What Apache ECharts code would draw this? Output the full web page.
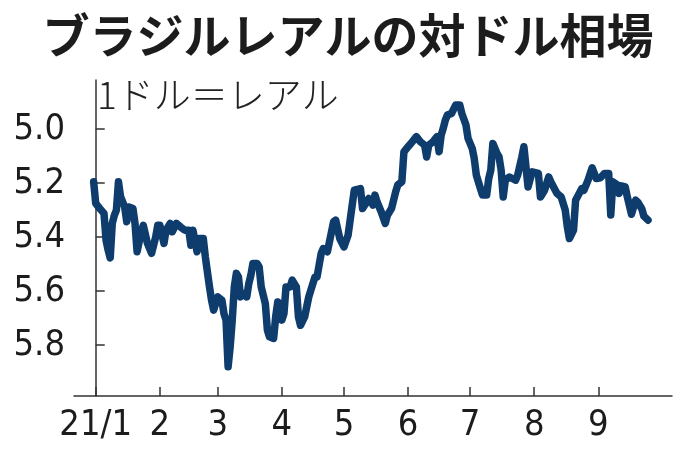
<!DOCTYPE html>
<html>
<head>
<meta charset="utf-8">
<script src="https://cdn.jsdelivr.net/npm/echarts@6/dist/echarts.min.js"></script>
<style>
html,body{margin:0;padding:0;background:#fff;}
#chart{width:696px;height:464px;}
</style>
</head>
<body>
<div id="chart"></div>
<script>
const titleText = 'ブラジルレアルの対ドル相場';
const unitText = '1ドル＝レアル';

const dates = [
'2020-12-31','2021-01-01','2021-01-03','2021-01-05','2021-01-06','2021-01-07','2021-01-08','2021-01-09','2021-01-10','2021-01-11',
'2021-01-12','2021-01-13','2021-01-15','2021-01-16','2021-01-17','2021-01-19','2021-01-20','2021-01-21','2021-01-23','2021-01-24',
'2021-01-26','2021-01-28','2021-01-30','2021-01-31','2021-02-01','2021-02-03','2021-02-04','2021-02-06','2021-02-07','2021-02-09',
'2021-02-11','2021-02-13','2021-02-15','2021-02-16','2021-02-17','2021-02-19','2021-02-20','2021-02-22','2021-02-23','2021-02-25',
'2021-02-26','2021-02-27','2021-03-01','2021-03-03','2021-03-04','2021-03-05','2021-03-06','2021-03-07','2021-03-08','2021-03-09',
'2021-03-10','2021-03-11','2021-03-12','2021-03-14','2021-03-15','2021-03-16','2021-03-17','2021-03-18','2021-03-20','2021-03-21',
'2021-03-22','2021-03-24','2021-03-25','2021-03-26','2021-03-28','2021-03-29','2021-03-30','2021-03-31','2021-04-01','2021-04-02',
'2021-04-03','2021-04-05','2021-04-06','2021-04-08','2021-04-09','2021-04-10','2021-04-12','2021-04-14','2021-04-17','2021-04-18',
'2021-04-20','2021-04-21','2021-04-23','2021-04-24','2021-04-26','2021-04-27','2021-04-29','2021-05-01','2021-05-03','2021-05-05',
'2021-05-06','2021-05-09','2021-05-10','2021-05-12','2021-05-13','2021-05-15','2021-05-16','2021-05-17','2021-05-19','2021-05-21',
'2021-05-22','2021-05-24','2021-05-26','2021-05-27','2021-05-29','2021-05-30','2021-06-01','2021-06-03','2021-06-05','2021-06-07',
'2021-06-09','2021-06-10','2021-06-11','2021-06-13','2021-06-15','2021-06-16','2021-06-17','2021-06-18','2021-06-19','2021-06-20',
'2021-06-22','2021-06-24','2021-06-26','2021-06-27','2021-06-29','2021-06-30','2021-07-02','2021-07-03','2021-07-04','2021-07-06',
'2021-07-07','2021-07-09','2021-07-10','2021-07-11','2021-07-12','2021-07-14','2021-07-15','2021-07-16','2021-07-17','2021-07-18',
'2021-07-20','2021-07-23','2021-07-24','2021-07-26','2021-07-27','2021-07-29','2021-07-31','2021-08-03','2021-08-04','2021-08-06',
'2021-08-08','2021-08-09','2021-08-12','2021-08-14','2021-08-16','2021-08-17','2021-08-18','2021-08-20','2021-08-21','2021-08-24',
'2021-08-25','2021-08-27','2021-08-29','2021-08-31','2021-09-02','2021-09-04','2021-09-06','2021-09-07','2021-09-08','2021-09-10',
'2021-09-11','2021-09-12','2021-09-14','2021-09-15','2021-09-17','2021-09-19','2021-09-20','2021-09-22','2021-09-23','2021-09-25'
];

const rates = [
5.195,5.275,5.294,5.312,5.411,5.448,5.477,5.349,5.319,5.300,
5.195,5.250,5.288,5.343,5.288,5.294,5.349,5.454,5.380,5.356,
5.423,5.460,5.399,5.356,5.356,5.423,5.374,5.349,5.380,5.349,
5.362,5.374,5.374,5.430,5.374,5.454,5.405,5.405,5.473,5.584,
5.633,5.670,5.621,5.633,5.683,5.707,5.880,5.806,5.707,5.584,
5.534,5.547,5.621,5.609,5.621,5.572,5.541,5.497,5.497,5.510,
5.584,5.646,5.744,5.769,5.775,5.695,5.640,5.646,5.707,5.683,
5.584,5.584,5.559,5.584,5.695,5.726,5.695,5.621,5.547,5.547,
5.460,5.442,5.454,5.417,5.343,5.337,5.405,5.436,5.393,5.281,
5.226,5.220,5.294,5.269,5.257,5.281,5.244,5.269,5.306,5.349,
5.319,5.294,5.232,5.207,5.195,5.084,5.065,5.047,5.028,5.047,
5.059,5.103,5.059,5.047,5.028,5.084,5.022,4.997,4.967,4.948,
4.942,4.911,4.911,4.942,4.985,5.034,5.071,5.109,5.170,5.220,
5.244,5.244,5.183,5.152,5.053,5.090,5.103,5.152,5.251,5.189,
5.177,5.189,5.170,5.103,5.065,5.214,5.158,5.164,5.251,5.226,
5.177,5.195,5.238,5.251,5.300,5.362,5.405,5.374,5.263,5.220,
5.226,5.189,5.143,5.183,5.180,5.164,5.164,5.318,5.195,5.205,
5.238,5.210,5.214,5.251,5.315,5.263,5.270,5.295,5.322,5.337
];

const xTickDates = ['2021-01-01','2021-02-01','2021-03-01','2021-04-01','2021-05-01','2021-06-01','2021-07-01','2021-08-01','2021-09-01'];
const xTickLabels = ['21/1','2','3','4','5','6','7','8','9'];
const yTicks = [5.0, 5.2, 5.4, 5.6, 5.8];

// day index counted from 2021-01-01 (UTC based, no DST issues)
function dayIndex(s) {
  const p = s.split('-').map(Number);
  return Math.round((Date.UTC(p[0], p[1] - 1, p[2]) - Date.UTC(2021, 0, 1)) / 86400000);
}
const xMin = -10.5;
const xMax = 278.6;
const xTickVals = xTickDates.map(dayIndex);

const seriesData = dates.map((d, i) => [dayIndex(d), rates[i]]);

const axisFont = "'Liberation Sans Narrow','DejaVu Sans Condensed','Noto Sans',sans-serif";
const jpFont = "'Noto Sans CJK JP','Noto Sans',sans-serif";

const chart = echarts.init(document.getElementById('chart'), null, {renderer: 'canvas'});
chart.setOption({
  backgroundColor: '#ffffff',
  animation: false,
  graphic: [
    {
      type: 'text', left: 'center', top: 12,
      style: {text: titleText, font: "bold 47px " + jpFont, fill: '#1c1c1c'}
    },
    {
      type: 'text', left: 97, top: 76,
      style: {text: unitText, font: "300 37px " + jpFont, fill: '#222'}
    }
  ],
  grid: {left: 74, right: 24, top: 80, bottom: 68, containLabel: false},
  xAxis: {
    type: 'value',
    min: xMin,
    max: xMax,
    axisLine: {show: true, lineStyle: {color: '#333', width: 1.5}},
    axisTick: {show: true, inside: true, length: 9, customValues: xTickVals, lineStyle: {color: '#333', width: 1.5}},
    axisLabel: {
      show: true,
      customValues: xTickVals,
      margin: 12,
      color: '#1c1c1c',
      fontFamily: axisFont,
      fontSize: 36,
      formatter: function (v) {
        const i = xTickVals.indexOf(Math.round(v));
        return i >= 0 ? xTickLabels[i] : '';
      }
    },
    splitLine: {show: false}
  },
  yAxis: {
    type: 'value',
    inverse: true,
    min: 4.818,
    max: 5.988,
    axisLine: {show: true, lineStyle: {color: '#333', width: 1.5}},
    axisTick: {show: true, inside: true, length: 9, customValues: yTicks, lineStyle: {color: '#333', width: 1.5}},
    axisLabel: {
      show: true,
      customValues: yTicks,
      margin: 9,
      color: '#1c1c1c',
      fontFamily: axisFont,
      fontSize: 36,
      formatter: function (v) { return Number(v).toFixed(1); }
    },
    splitLine: {show: false}
  },
  series: [{
    type: 'line',
    data: seriesData,
    showSymbol: false,
    symbol: 'none',
    lineStyle: {color: '#0e3c6c', width: 7.5, cap: 'round', join: 'round'}
  }]
});
</script>
</body>
</html>
